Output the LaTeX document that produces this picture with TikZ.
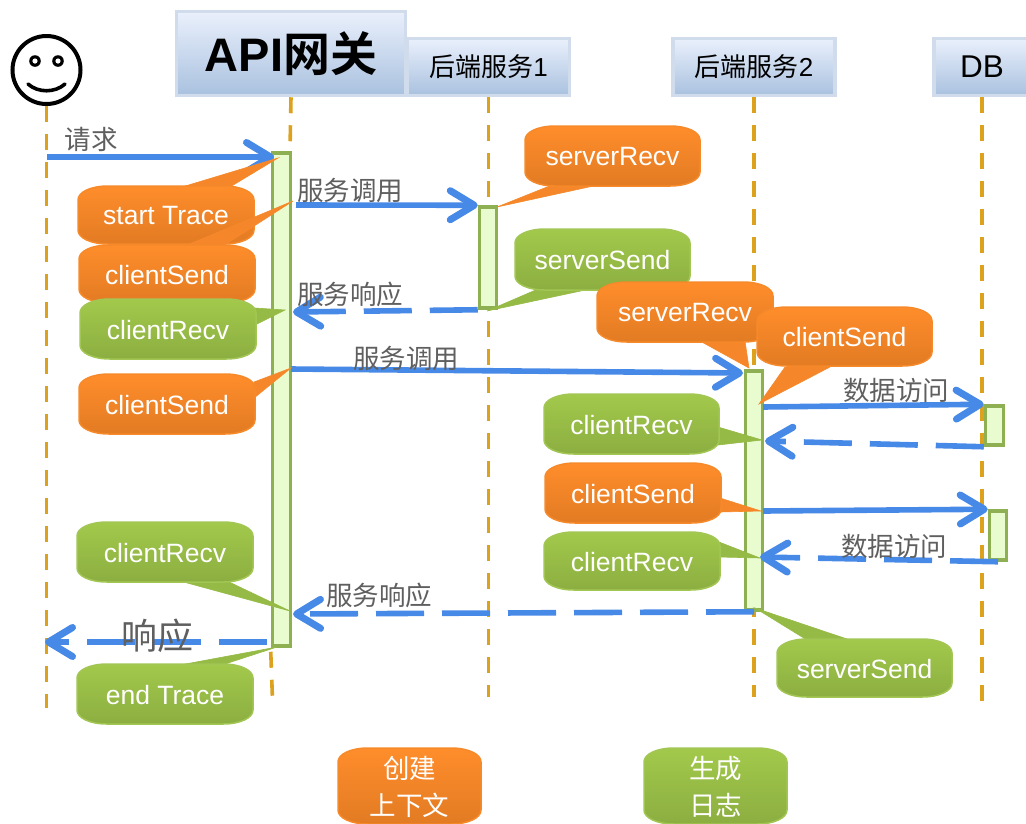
\documentclass[tikz,border=0pt]{standalone}
\usepackage{fontspec}
\setmainfont{Liberation Sans}
\newfontfamily\cjk[BoldFont={Noto Sans CJK SC Bold}]{Noto Sans CJK SC}
\usetikzlibrary{arrows.meta}
\definecolor{lifec}{HTML}{DCA21E}
\definecolor{msgc}{HTML}{4689E6}
\definecolor{lblc}{HTML}{5F5F5F}
\definecolor{barf}{HTML}{E8FCCF}
\definecolor{bard}{HTML}{8FB052}
\definecolor{ortop}{HTML}{FF8D2B}
\definecolor{orbot}{HTML}{E27B23}
\definecolor{orline}{HTML}{F68A2A}
\definecolor{ormid}{HTML}{F5862A}
\definecolor{grtop}{HTML}{A2C94B}
\definecolor{grbot}{HTML}{8CAE41}
\definecolor{grline}{HTML}{A2C653}
\definecolor{grmid}{HTML}{95BA45}
\definecolor{headtop}{HTML}{EAF0FC}
\definecolor{headbot}{HTML}{A9C1DF}
\definecolor{headline}{HTML}{D0DCEB}
\tikzset{
  life/.style={draw=lifec,line width=3.6pt,dash pattern=on 16pt off 12pt},
  msg/.style={draw=msgc,line width=5.6pt,-{Straight Barb[length=24pt,width=29pt,line width=7pt,round]}},
  msgd/.style={msg,dash pattern=on 48pt off 18pt},
  lbl/.style={text=lblc,inner sep=0pt,font=\cjk\fontsize{26.5}{30}\selectfont},
  hd/.style={draw=headline,line width=3.5pt,top color=headtop,bottom color=headbot,inner sep=0pt,text=black},
  barn/.style={draw=bard,fill=barf,line width=3.5pt,inner sep=0pt},
  btext/.style={text=white,inner sep=0pt,font=\fontsize{26.5}{30}\selectfont,align=center},
  orbub/.style={draw=orline,line width=1.5pt,top color=ortop,bottom color=orbot},
  grbub/.style={draw=grline,line width=1.5pt,top color=grtop,bottom color=grbot},
  ortail/.style={fill=ormid,draw=orline,line width=.6pt,line join=miter},
  grtail/.style={fill=grmid,draw=grmid,line width=.6pt,line join=miter}
}
% name, style, x1,y1,x2,y2, text
\newcommand\bubbox[7]{%
  \pgfmathsetmacro\xa{#3+30}\pgfmathsetmacro\xb{#5-30}%
  \pgfmathsetmacro\xc{#3+13}\pgfmathsetmacro\xd{#5-13}%
  \pgfmathsetmacro\ya{#4+14}\pgfmathsetmacro\yb{#6-14}%
  \pgfmathsetmacro\ye{#4+6}\pgfmathsetmacro\yf{#6-6}%
  \pgfmathsetmacro\xm{(#3+#5)/2}\pgfmathsetmacro\ym{(#4+#6)/2+0.7}%
  \path[#2] (#3,\ya) .. controls (#3,\ye) and (\xc,#4) .. (\xa,#4) -- (\xb,#4)
     .. controls (\xd,#4) and (#5,\ye) .. (#5,\ya) -- (#5,\yb)
     .. controls (#5,\yf) and (\xd,#6) .. (\xb,#6) -- (\xa,#6)
     .. controls (\xc,#6) and (#3,\yf) .. (#3,\yb) -- cycle;
  \node[btext] (#1) at (\xm,\ym) {#7};
}
\begin{document}
\begin{tikzpicture}[x=1pt,y=-1pt]
\useasboundingbox (0,0) rectangle (1026,823);
% smiley
\node[draw=black,line width=4pt,circle,minimum size=68pt,inner sep=0pt] (user) at (46.5,70) {};
\fill[black] (35,61) circle (5.8pt) (58,61) circle (5.8pt);
\fill[white] (35,61) circle (2.6pt) (58,61) circle (2.6pt);
\draw[black,line width=3.6pt,line cap=round] (28,84) .. controls (38,93) and (55,93) .. (65,84);
% headers
\node[hd,minimum width=162pt,minimum height=57pt] (svcA) at (488.5,67) {\cjk\fontsize{26}{30}\selectfont 后端服务\fontspec{Liberation Sans}1};
\node[hd,minimum width=162pt,minimum height=57pt] (svcB) at (754,67) {\cjk\fontsize{26}{30}\selectfont 后端服务\fontspec{Liberation Sans}2};
\node[hd,minimum width=96pt,minimum height=57pt] (dbh) at (982,67) {\fontsize{31.5}{34}\selectfont DB};
\node[hd,minimum width=229pt,minimum height=84pt] (api) at (291,53.5) {\fontsize{47}{52}\selectfont\bfseries API{\cjk\bfseries 网关}};
% lifeline ends
\coordinate (userend) at (46.5,708);
\coordinate (apitop) at (290,150);
\coordinate (apiend) at (272.5,700);
\coordinate (svcAend) at (488.5,697);
\coordinate (svcBend) at (754,697);
\coordinate (dbend) at (982,702);
\draw[life] (user.south) -- (userend);
\draw[life] (api.south) -- (apitop);
\draw[life] (svcA.south) -- (svcAend);
\draw[life] (svcB.south) -- (svcBend);
\draw[life] (dbh.south) -- (dbend);
% activation bars
\node[barn,minimum width=18pt,minimum height=493pt] (apibar) at (281.5,399.5) {};
\draw[life] (apibar.south west) ++(0,4) -- (apiend);
\node[barn,minimum width=17pt,minimum height=101pt] (svcAbar) at (488,257.5) {};
\node[barn,minimum width=17pt,minimum height=239pt] (svcBbar) at (754,490.5) {};
\node[barn,minimum width=18pt,minimum height=39pt] (dbAbar) at (994.5,425.5) {};
\node[barn,minimum width=17pt,minimum height=49pt] (dbBbar) at (998,535.5) {};
% messages
\coordinate (m1a) at (47,157);
\coordinate (m1b) at (274,157);
\coordinate (m2a) at (296,205);
\coordinate (m3b) at (293,312);
\coordinate (m4a) at (291,369);
\coordinate (m4b) at (743,373);
\coordinate (m5a) at (763,407);
\coordinate (m6b) at (765,441);
\coordinate (m7a) at (763,511);
\coordinate (m8b) at (760,557);
\coordinate (m9b) at (293,614);
\coordinate (m10a) at (267,642);
\coordinate (m10b) at (45,642);
\draw[msg] (m1a) -- (m1b);
\draw[msg] (m2a) -- (svcAbar.north west);
\draw[msgd] (svcAbar.south west) -- (m3b);
\draw[msg] (m4a) -- (m4b);
\draw[msg] (m5a) -- (dbAbar.north west);
\draw[msgd] (dbAbar.south west) -- (m6b);
\draw[msg] (m7a) -- (dbBbar.north west);
\draw[msgd] (dbBbar.south) -- (m8b);
\draw[msgd] (svcBbar.south) -- (m9b);
\draw[msgd] (m10a) -- (m10b);
% message labels
\node[lbl] (l1) at (91,139) {请求};
\node[lbl] (l2) at (350,190) {服务调用};
\node[lbl] (l3) at (350,294) {服务响应};
\node[lbl] (l4) at (406,358) {服务调用};
\node[lbl] (l5) at (896,390) {数据访问};
\node[lbl] (l6) at (894,546) {数据访问};
\node[lbl] (l7) at (379,595) {服务响应};
\node[lbl,font=\cjk\fontsize{36}{40}\selectfont] (l8) at (157,636) {响应};
% callouts
\fill[ortail] (182,187) -- (278,158) -- (230,187) -- cycle;
\bubbox{startT}{orbub}{78}{186}{254}{244}{start Trace}
\fill[ortail] (185,246) -- (293,201) -- (223,246) -- cycle;
\bubbox{cSendA}{orbub}{79}{245}{255}{303}{clientSend}
\fill[grtail] (255,308) -- (285,310) -- (255,325) -- cycle;
\bubbox{cRecvA}{grbub}{80}{299}{256}{359}{clientRecv}
\fill[ortail] (254,382) -- (291,368) -- (254,398) -- cycle;
\bubbox{cSendB}{orbub}{79}{374}{255}{434}{clientSend}
\fill[ortail] (552,185) -- (497,207) -- (598,185) -- cycle;
\bubbox{sRecvA}{orbub}{525}{126}{700}{186}{serverRecv}
\fill[grtail] (538,289) -- (487,311) -- (590,289) -- cycle;
\bubbox{sSendA}{grbub}{515}{229}{690}{290}{serverSend}
\fill[ortail] (700,341) -- (749,368) -- (745,341) -- cycle;
\bubbox{sRecvB}{orbub}{597}{282}{773}{342}{serverRecv}
\fill[ortail] (785,367) -- (759,404) -- (830,367) -- cycle;
\bubbox{cSendC}{orbub}{757}{307}{932}{366}{clientSend}
\fill[grtail] (718,427) -- (762,440) -- (718,445) -- cycle;
\bubbox{cRecvB}{grbub}{544}{394}{719}{454}{clientRecv}
\fill[ortail] (720,498) -- (761,511) -- (720,512) -- cycle;
\bubbox{cSendD}{orbub}{545}{463}{721}{523}{clientSend}
\fill[grtail] (719,542) -- (760,558) -- (719,557) -- cycle;
\bubbox{cRecvC}{grbub}{544}{532}{720}{590}{clientRecv}
\fill[grtail] (807,640) -- (755,608) -- (850,640) -- cycle;
\bubbox{sSendB}{grbub}{777}{639}{952}{697}{serverSend}
\fill[grtail] (180,581) -- (290,611) -- (227,581) -- cycle;
\bubbox{cRecvD}{grbub}{77}{522}{253}{582}{clientRecv}
\fill[grtail] (180,665) -- (277,647) -- (222,665) -- cycle;
\bubbox{endT}{grbub}{77}{664}{253}{724}{end Trace}
% legend
\bubbox{legA}{orbub}{338}{748}{481}{824}{\cjk\fontsize{26.5}{30}\selectfont 创建\\[7pt] \cjk\fontsize{26.5}{30}\selectfont 上下文}
\bubbox{legB}{grbub}{644}{748}{787}{824}{\cjk\fontsize{26.5}{30}\selectfont 生成\\[7pt] \cjk\fontsize{26.5}{30}\selectfont 日志}
\end{tikzpicture}
\end{document}
